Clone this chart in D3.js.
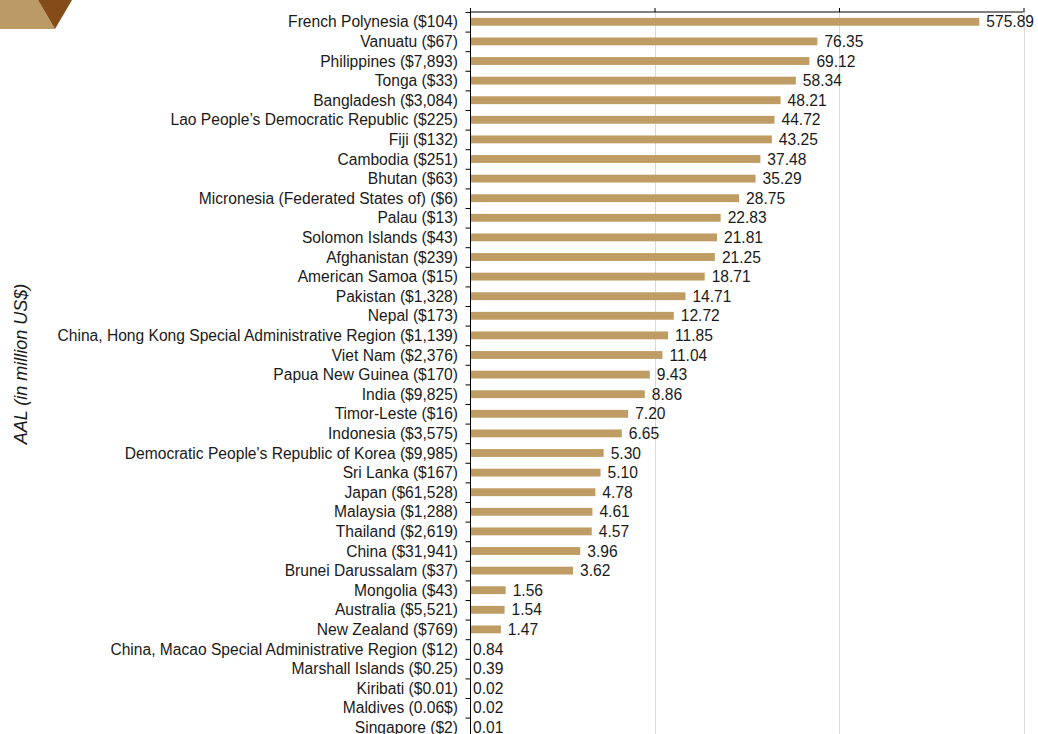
<!DOCTYPE html>
<html>
<head>
<meta charset="utf-8">
<script src="https://cdn.jsdelivr.net/npm/d3@7"></script>
<style>
  html, body { margin: 0; padding: 0; background: #fff; }
  svg { display: block; font-family: "Liberation Sans", Arial, sans-serif; }
</style>
</head>
<body>
<svg id="chart" width="1038" height="734"></svg>
<script>
const categories = [
  "French Polynesia ($104)", "Vanuatu ($67)", "Philippines ($7,893)", "Tonga ($33)",
  "Bangladesh ($3,084)", "Lao People’s Democratic Republic ($225)", "Fiji ($132)",
  "Cambodia ($251)", "Bhutan ($63)", "Micronesia (Federated States of) ($6)", "Palau ($13)",
  "Solomon Islands ($43)", "Afghanistan ($239)", "American Samoa ($15)", "Pakistan ($1,328)",
  "Nepal ($173)", "China, Hong Kong Special Administrative Region ($1,139)", "Viet Nam ($2,376)",
  "Papua New Guinea ($170)", "India ($9,825)", "Timor-Leste ($16)", "Indonesia ($3,575)",
  "Democratic People's Republic of Korea ($9,985)", "Sri Lanka ($167)", "Japan ($61,528)",
  "Malaysia ($1,288)", "Thailand ($2,619)", "China ($31,941)", "Brunei Darussalam ($37)",
  "Mongolia ($43)", "Australia ($5,521)", "New Zealand ($769)",
  "China, Macao Special Administrative Region ($12)", "Marshall Islands ($0.25)",
  "Kiribati ($0.01)", "Maldives (0.06$)", "Singapore ($2)"
];
const values = [
  575.89, 76.35, 69.12, 58.34, 48.21, 44.72, 43.25, 37.48, 35.29, 28.75, 22.83,
  21.81, 21.25, 18.71, 14.71, 12.72, 11.85, 11.04, 9.43, 8.86, 7.20, 6.65,
  5.30, 5.10, 4.78, 4.61, 4.57, 3.96, 3.62, 1.56, 1.54, 1.47, 0.84, 0.39,
  0.02, 0.02, 0.01
];
const xTicks = [1, 10, 100, 1000];
const axisTitle = "AAL (in million US$)";

const svg = d3.select("#chart");
const mLeft = 470, mRight = 1023.5, mTop = 12, band = 19.6;

const x = d3.scaleLog().domain([1, 1000]).range([mLeft, mRight]);
const y = d3.scaleBand().domain(categories)
  .range([mTop, mTop + band * categories.length]).paddingInner(0.6).paddingOuter(0.3);

// logo
svg.append("polygon").attr("points", "0,0 38,0 55,29 0,29").attr("fill", "#bc9a63");
svg.append("polygon").attr("points", "38,0 72,0 55,29").attr("fill", "#844c18");

// gridlines
svg.append("g").selectAll("line").data(xTicks.slice(1)).join("line")
  .attr("x1", d => Math.round(x(d)) + 0.5).attr("x2", d => Math.round(x(d)) + 0.5)
  .attr("y1", mTop).attr("y2", 734)
  .attr("stroke", "#d9d9d9").attr("stroke-width", 1);

// bars
const xv = v => x(Math.max(v, 1));
svg.append("g").selectAll("rect").data(values).join("rect")
  .attr("x", mLeft)
  .attr("y", (d, i) => y(categories[i]))
  .attr("width", d => Math.max(0, xv(d) - mLeft))
  .attr("height", y.bandwidth())
  .attr("fill", "#bf9c63");

// value labels
svg.append("g").selectAll("text").data(values).join("text")
  .attr("x", d => xv(d) + (d < 1 ? 3 : 7))
  .attr("y", (d, i) => y(categories[i]) + y.bandwidth() / 2)
  .attr("dy", "0.36em")
  .attr("font-size", 15.6)
  .attr("fill", "#1a1a1a")
  .text(d => d.toFixed(2));

// top axis
const topAxis = d3.axisTop(x).tickValues(xTicks).tickSize(4).tickFormat("");
const gTop = svg.append("g").attr("transform", `translate(0,${mTop})`).call(topAxis);
gTop.select(".domain").attr("stroke", "#000").attr("d", `M${mLeft},0H${mRight}`);
gTop.selectAll(".tick line").attr("stroke", "#000");

// left axis with ticks at band boundaries
const yPos = d3.scaleLinear().domain([0, categories.length]).range([mTop, mTop + band * categories.length]);
const gLeft = svg.append("g").attr("transform", `translate(${mLeft + 0.5},0)`)
  .call(d3.axisLeft(yPos).tickValues(d3.range(0, categories.length + 1)).tickSize(5).tickFormat(""));
gLeft.selectAll(".domain").attr("stroke", "#000").attr("d", `M0,${mTop}V734`);
gLeft.selectAll(".tick line").attr("stroke", "#000");

// category labels
svg.append("g").selectAll("text").data(categories).join("text")
  .attr("x", mLeft - 12)
  .attr("y", d => y(d) + y.bandwidth() / 2)
  .attr("dy", "0.36em")
  .attr("text-anchor", "end")
  .attr("font-size", 15.6)
  .attr("fill", "#1a1a1a")
  .text(d => d);

// axis title
svg.append("text")
  .attr("transform", "translate(27,364) rotate(-90)")
  .attr("text-anchor", "middle")
  .attr("font-size", 18)
  .attr("font-style", "italic")
  .attr("fill", "#1a1a1a")
  .text(axisTitle);
</script>
</body>
</html>
